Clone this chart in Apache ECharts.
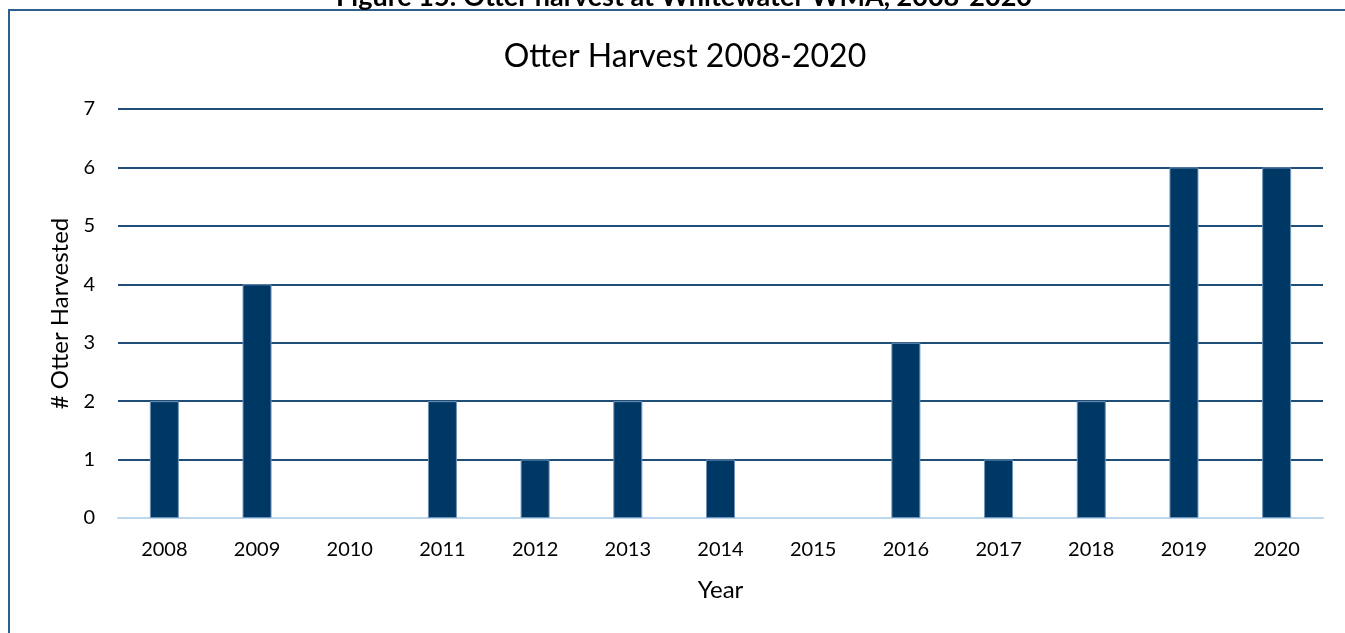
<!DOCTYPE html>
<html><head><meta charset="utf-8">
<script src="https://cdn.jsdelivr.net/npm/echarts@6/dist/echarts.min.js"></script>
<style>html,body{margin:0;padding:0;background:#fff}#c{width:1345px;height:633px}</style>
</head><body><div id="c"></div>
<script>
const years = ['2008','2009','2010','2011','2012','2013','2014','2015','2016','2017','2018','2019','2020'];
const harvest = [2,4,0,2,1,2,1,0,3,1,2,6,6];
const yTicks = {min:0, max:7, interval:1};
const chart = echarts.init(document.getElementById('c'));
const FONT = 'Lato, "Liberation Sans", sans-serif';
chart.setOption({
  animation:false,
  backgroundColor:'#fff',
  graphic:[
    {type:'rect', shape:{x:9,y:10,width:1400,height:700}, style:{fill:'none',stroke:'#2e5f8f',lineWidth:2}},
    {type:'text', x:684, y:-16, style:{text:'Figure 15: Otter harvest at Whitewater WMA, 2008-2020', align:'center', verticalAlign:'top', font:'bold 27px '+FONT, fill:'#000'}}
  ],
  title:{text:'Otter Harvest 2008-2020', left:680, textAlign:'center', top:36,
    textStyle:{fontFamily:FONT, fontSize:32, fontWeight:'normal', color:'#000'}},
  grid:{left:118, right:22, top:109, bottom:115},
  xAxis:{type:'category', data:years, name:'Year', nameLocation:'middle', nameGap:60,
    nameTextStyle:{fontFamily:FONT, fontSize:24, color:'#000'},
    axisLine:{lineStyle:{color:'#bdd7ee', width:2}}, axisTick:{show:false},
    axisLabel:{fontFamily:FONT, fontSize:20, color:'#000', margin:22}},
  yAxis:{type:'value', min:yTicks.min, max:yTicks.max, interval:yTicks.interval,
    name:'# Otter Harvested', nameLocation:'middle', nameGap:34, nameRotate:90,
    nameTextStyle:{fontFamily:FONT, fontSize:24, color:'#000'},
    axisLine:{show:false}, axisTick:{show:false},
    axisLabel:{fontFamily:FONT, fontSize:20, color:'#000', margin:23},
    splitLine:{lineStyle:{color:'#1f4e79', width:2}}},
  series:[{type:'bar', barWidth:29,
    data:harvest.map(v => ({value:v, itemStyle:{borderWidth: v ? 1 : 0}})),
    itemStyle:{color:'#003865', borderColor:'#6f93b8'}}]
});
</script></body></html>
